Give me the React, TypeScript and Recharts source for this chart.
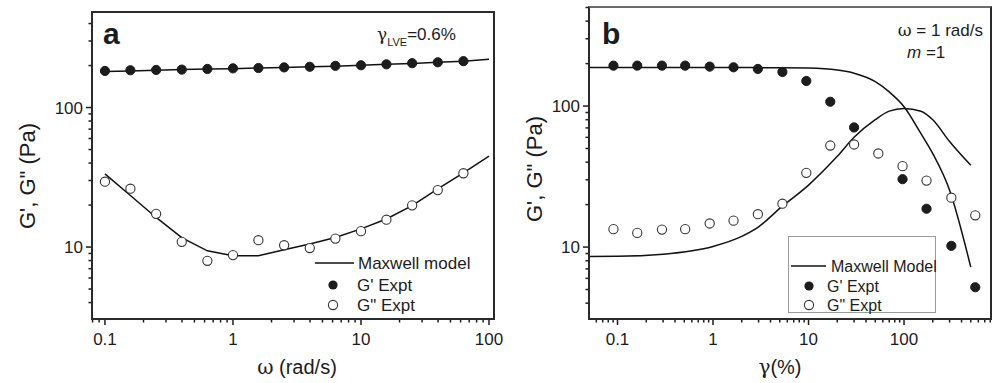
import React from 'react';
import { ComposedChart, XAxis, YAxis, Line, Scatter } from 'recharts';

const FONT = '"Liberation Sans", Arial, Helvetica, sans-serif';
const GREEK = '"DejaVu Serif", "Liberation Serif", serif';
const INK = '#1c1c1c';

// ---------- Panel a: frequency sweep ----------
const omegaA = [0.1, 0.158, 0.251, 0.398, 0.631, 1, 1.58, 2.51, 3.98, 6.31, 10, 15.8, 25.1, 39.8, 63.1];
const gPrimeA = [183, 185, 186, 187, 189, 191, 192, 194, 196, 199, 201, 204, 208, 211, 215];
const gDoubleA = [29.4, 26.2, 17.3, 10.9, 7.97, 8.76, 11.2, 10.3, 9.84, 11.5, 13.0, 15.7, 19.9, 25.6, 33.8];
const modelOmegaA = [0.1, 0.158, 0.251, 0.398, 0.631, 1, 1.58, 2.51, 3.98, 6.31, 10, 15.8, 25.1, 39.8, 63.1, 100];
const modelGPrimeA = [181, 183, 185, 187, 189, 190, 192, 194, 196, 198, 201, 204, 207, 211, 215, 222];
const modelGDoubleA = [33.5, 23.4, 16.3, 11.7, 9.4, 8.66, 8.66, 9.56, 10.5, 11.7, 13.5, 15.9, 19.8, 26.1, 34.0, 44.8];

// ---------- Panel b: strain sweep ----------
const strainB = [0.0907, 0.161, 0.292, 0.511, 0.923, 1.64, 2.95, 5.33, 9.48, 16.9, 30.0, 53.8, 96.5, 172, 313, 557];
const strainGPrimeB = [0.0907, 0.161, 0.292, 0.511, 0.923, 1.64, 2.95, 5.33, 9.48, 16.9, 30.0, 96.5, 172, 313, 557];
const gPrimeB = [193.5, 193.5, 193.5, 193.5, 190.4, 188.3, 183.3, 174.5, 150.6, 107.3, 70.5, 30.3, 18.7, 10.2, 5.19];
const gDoubleB = [13.4, 12.6, 13.3, 13.4, 14.7, 15.4, 17.1, 20.3, 33.6, 52.5, 53.4, 46.1, 37.5, 29.6, 22.4, 16.8];
const modelStrainB = [0.05, 0.1, 0.3, 1, 2, 3, 5, 10, 20, 30, 50, 70, 100, 150, 200, 300, 500];
const modelGPrimeB = [188, 188, 188, 188, 188, 187, 187, 186, 180, 171, 149, 126, 99, 64, 46, 25.3, 7.2];
const modelGDoubleB = [8.59, 8.6, 8.9, 10.1, 11.9, 13.9, 18.8, 27.5, 44, 60, 80, 92, 96, 92, 80, 56, 38];

// ---------- axes ----------
const majorTicks = [0.01, 0.1, 1, 10, 100, 1000];
const majorLabels = ['0.01', '0.1', '1', '10', '100', '1000'];
const domainXA: [number, number] = [0.0792, 109.4];
const domainXB: [number, number] = [0.0503, 814];
const domainYA: [number, number] = [3.05, 484];
const domainYB: [number, number] = [3.09, 504];

const logTicks = (lo: number, hi: number) => {
  const out: number[] = [];
  for (let e = -3; e <= 3; e++) {
    for (let m = 1; m <= 9; m++) {
      const v = Number((m * Math.pow(10, e)).toPrecision(3));
      if (v >= lo && v <= hi) out.push(v);
    }
  }
  return out;
};

const labelOf = (v: number) => {
  const i = majorTicks.findIndex((t) => Math.abs(t - v) / t < 1e-6);
  return i >= 0 ? majorLabels[i] : null;
};

const XTick = (props: any) => {
  const { x, y, payload } = props;
  const lab = labelOf(payload.value);
  return (
    <g>
      <line x1={x} x2={x} y1={y} y2={y + (lab ? 6 : 3.5)} stroke={INK} strokeWidth={1.5} />
      {lab && (
        <text x={x} y={y + 26} textAnchor="middle" fontSize={17} fontFamily={FONT} fill={INK}>
          {lab}
        </text>
      )}
    </g>
  );
};

const YTick = (props: any) => {
  const { x, y, payload } = props;
  const lab = labelOf(payload.value);
  return (
    <g>
      <line x1={x} x2={x - (lab ? 6 : 3.5)} y1={y} y2={y} stroke={INK} strokeWidth={1.5} />
      {lab && (
        <text x={x - 9} y={y + 6} textAnchor="end" fontSize={17} fontFamily={FONT} fill={INK}>
          {lab}
        </text>
      )}
    </g>
  );
};

const FilledDot = (p: any) => <circle cx={p.cx} cy={p.cy} r={4.6} fill={INK} stroke={INK} strokeWidth={1} />;
const OpenDot = (p: any) => <circle cx={p.cx} cy={p.cy} r={4.6} fill="#fff" stroke="#333" strokeWidth={1.1} />;

const zip = (xs: number[], ys: number[]) => xs.map((x, i) => ({ x, y: ys[i] }));

type PanelProps = {
  left: number;
  width: number;
  top: number;
  right: number;
  domainX: [number, number];
  domainY: [number, number];
  points: { filled: { x: number; y: number }[]; open: { x: number; y: number }[] };
  models: { x: number; y: number }[][];
  curve: 'linear' | 'monotone';
};

const Panel = ({ left, width, top, right, domainX, domainY, points, models, curve }: PanelProps) => (
  <div style={{ position: 'absolute', left, top: 0 }}>
    <ComposedChart width={width} height={383} margin={{ top, right, bottom: 0, left: 0 }}>
      <XAxis
        dataKey="x"
        type="number"
        scale="log"
        domain={domainX}
        allowDataOverflow
        ticks={logTicks(domainX[0], domainX[1])}
        interval={0}
        axisLine={false}
        tickLine={false}
        tickSize={0}
        tickMargin={0}
        height={64}
        tick={(p: any) => <XTick {...p} />}
      />
      <YAxis
        dataKey="y"
        type="number"
        scale="log"
        domain={domainY}
        allowDataOverflow
        ticks={logTicks(domainY[0], domainY[1])}
        interval={0}
        axisLine={false}
        tickLine={false}
        tickSize={0}
        tickMargin={0}
        width={92}
        tick={(p: any) => <YTick {...p} />}
      />
      {models.map((m, i) => (
        <Line
          key={i}
          data={m}
          dataKey="y"
          type={curve}
          stroke="#111"
          strokeWidth={1.5}
          dot={false}
          activeDot={false}
          isAnimationActive={false}
        />
      ))}
      <Scatter data={points.open} dataKey="y" shape={OpenDot} isAnimationActive={false} />
      <Scatter data={points.filled} dataKey="y" shape={FilledDot} isAnimationActive={false} />
    </ComposedChart>
  </div>
);

const Box = ({ l, t, w, h, topColor }: { l: number; t: number; w: number; h: number; topColor?: string }) => (
  <div
    style={{
      position: 'absolute',
      left: l - 1,
      top: t - 1,
      width: w + 2,
      height: h + 2,
      boxSizing: 'border-box',
      border: '2px solid #2a2a2a',
      borderTopColor: topColor || '#2a2a2a',
      pointerEvents: 'none',
    }}
  />
);

export default function App() {
  return (
    <div style={{ position: 'absolute', left: 0, top: 0, width: 994, height: 383, background: '#fff', overflow: 'hidden' }}>
      <Panel
        left={497}
        width={497}
        top={7}
        right={3}
        domainX={domainXB}
        domainY={domainYB}
        points={{ filled: zip(strainGPrimeB, gPrimeB), open: zip(strainB, gDoubleB) }}
        models={[zip(modelStrainB, modelGPrimeB), zip(modelStrainB, modelGDoubleB)]}
        curve="monotone"
      />
      <Panel
        left={0}
        width={520}
        top={12}
        right={26}
        domainX={domainXA}
        domainY={domainYA}
        points={{ filled: zip(omegaA, gPrimeA), open: zip(omegaA, gDoubleA) }}
        models={[zip(modelOmegaA, modelGPrimeA), zip(modelOmegaA, modelGDoubleA)]}
        curve="linear"
      />
      <Box l={92} t={12} w={402} h={307} />
      <Box l={589} t={7} w={402} h={312} topColor="#6a6a6a" />
      <div
        style={{
          position: 'absolute',
          left: 788,
          top: 236,
          width: 148,
          height: 77,
          boxSizing: 'border-box',
          border: '1px solid #9a9a9a',
          pointerEvents: 'none',
        }}
      />
      <svg width={994} height={383} style={{ position: 'absolute', left: 0, top: 0, pointerEvents: 'none' }}>
        {/* panel a annotations */}
        <text x={103} y={44} fontSize={30} fontWeight="bold" fontFamily={FONT} fill={INK}>a</text>
        <text x={377} y={40} fontSize={17} fontFamily={FONT} fill={INK}>
          <tspan fontFamily={GREEK}>γ</tspan>
          <tspan fontSize={11} dy={6}>LVE</tspan>
          <tspan dy={-6}>=0.6%</tspan>
        </text>
        {/* legend a */}
        <line x1={315} x2={354} y1={263} y2={263} stroke="#111" strokeWidth={1.5} />
        <text x={358} y={269} fontSize={17} fontFamily={FONT} fill={INK}>Maxwell model</text>
        <circle cx={333} cy={285} r={4.6} fill={INK} />
        <text x={357} y={291} fontSize={17} fontFamily={FONT} fill={INK}>G' Expt</text>
        <circle cx={333} cy={305} r={4.6} fill="#fff" stroke="#333" strokeWidth={1.1} />
        <text x={357} y={311} fontSize={17} fontFamily={FONT} fill={INK}>G" Expt</text>
        {/* axis titles a */}
        <text x={297} y={374} fontSize={20} fontFamily={FONT} fill={INK} textAnchor="middle">
          <tspan fontFamily={GREEK}>ω</tspan> (rad/s)
        </text>
        <text x={35} y={176} fontSize={22} fontFamily={FONT} fill={INK} textAnchor="middle" transform="rotate(-90 35 176)">
          G', G" (Pa)
        </text>

        {/* panel b annotations */}
        <text x={602} y={44} fontSize={30} fontWeight="bold" fontFamily={FONT} fill={INK}>b</text>
        <text x={983} y={36} fontSize={17} fontFamily={FONT} fill={INK} textAnchor="end">
          <tspan fontFamily={GREEK}>ω</tspan> = 1 rad/s
        </text>
        <text x={907} y={58} fontSize={17} fontFamily={FONT} fill={INK}>
          <tspan fontStyle="italic">m</tspan> =1
        </text>
        {/* legend b */}
        <line x1={791} x2={826} y1={266} y2={266} stroke="#111" strokeWidth={1.5} />
        <text x={831} y={272} fontSize={16} fontFamily={FONT} fill={INK}>Maxwell Model</text>
        <circle cx={809} cy={286} r={4.6} fill={INK} />
        <text x={827} y={292} fontSize={16} fontFamily={FONT} fill={INK}>G' Expt</text>
        <circle cx={809} cy={305} r={4.6} fill="#fff" stroke="#333" strokeWidth={1.1} />
        <text x={827} y={311} fontSize={16} fontFamily={FONT} fill={INK}>G" Expt</text>
        {/* axis titles b */}
        <text x={780} y={374} fontSize={20} fontFamily={FONT} fill={INK} textAnchor="middle">
          <tspan fontFamily={GREEK}>γ</tspan>(%)
        </text>
        <text x={542} y={169} fontSize={22} fontFamily={FONT} fill={INK} textAnchor="middle" transform="rotate(-90 542 169)">
          G', G" (Pa)
        </text>
      </svg>
    </div>
  );
}
